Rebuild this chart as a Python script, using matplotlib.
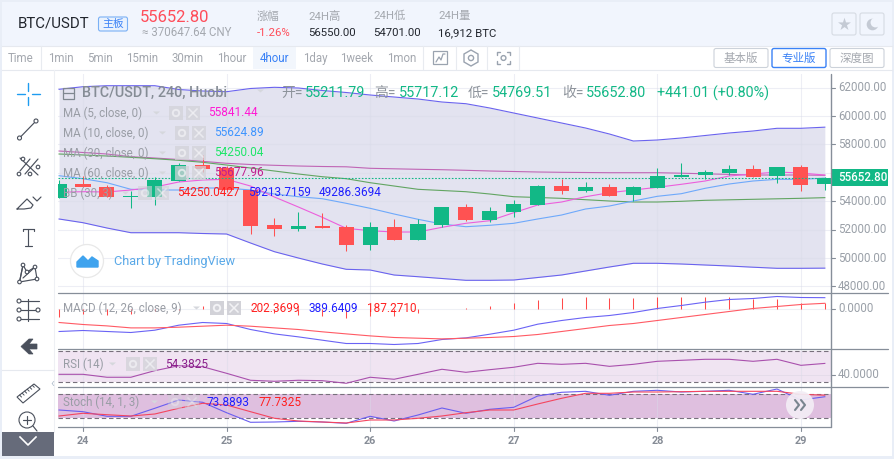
import numpy as np
import matplotlib
matplotlib.use('Agg')
import matplotlib.pyplot as plt
from matplotlib.patches import Rectangle, FancyBboxPatch, Circle, Polygon

plt.rcParams['font.family'] = ['Roboto', 'Noto Sans CJK SC', 'DejaVu Sans']

W, H = 895, 459

# candles, 4 hour bars
idx = list(range(-1, 32))
opens = [54246, 55211, 54979, 54296, 54296, 55444, 56549, 56317, 54789, 52324, 52042, 52254, 52183, 50916, 52183, 51268,
         52324, 53592, 52676, 53240, 53733, 55070, 54718, 55000, 54437, 54930, 55683, 55824, 55986, 56268, 55775, 56408, 55211.79]
closes = [55211, 54979, 54317, 54366, 55493, 56549, 56289, 54789, 52254, 52063, 52254, 52113, 50916, 52183, 51268, 52395,
          53592, 52676, 53310, 53803, 55070, 54718, 55000, 54366, 55000, 55775, 55845, 56057, 56268, 55704, 56408, 55141, 55652.80]
highs = [55493, 55775, 55140, 54740, 55683, 56711, 57254, 56500, 54789, 52817, 53240, 53170, 52324, 52535, 52746, 52746,
         53592, 53803, 53592, 54085, 55141, 55563, 55352, 55211, 55070, 56338, 56690, 56197, 56549, 56549, 56408, 56549, 55717.12]
lows = [54246, 54979, 54317, 53543, 53733, 55444, 56078, 54669, 51690, 51549, 51902, 52113, 50514, 50564, 51268, 51268,
        52183, 52606, 52535, 52887, 53733, 54507, 54648, 54366, 54014, 54930, 55683, 55563, 55845, 55704, 55282, 54718, 54769.51]

# moving averages
ma5 = [54627, 54670, 54650, 54789, 55000, 55352, 55493, 55542, 55070, 54296, 53592, 52866, 52092, 51923, 51831, 51831,
       52162, 52444, 52627, 53190, 53733, 53944, 54317, 54599, 54789, 54979, 55190, 55423, 55775, 55916, 56057, 55986, 55841.44]
ma10 = [55796, 55585, 55303, 54838, 54789, 54789, 54930, 54930, 54789, 54507, 54317, 54176, 53852, 53500, 53099, 52726,
        52394, 52204, 52303, 52444, 52747, 53028, 53451, 53662, 54014, 54345, 54528, 54909, 55211, 55423, 55542, 55542, 55624.89]
ma30 = [57324, 57254, 57183, 57092, 56993, 56880, 56740, 56549, 56338, 56127, 55916, 55725, 55585, 55303, 55070, 54838,
        54754, 54669, 54507, 54317, 54261, 54204, 54106, 54014, 53944, 53944, 53993, 54063, 54099, 54134, 54169, 54204, 54250.04]
ma60 = [57535, 57430, 57324, 57134, 57042, 56937, 56810, 56669, 56585, 56528, 56479, 56444, 56423, 56317, 56282, 56247,
        56218, 56176, 56127, 56092, 56057, 56035, 56021, 56007, 56007, 56007, 55972, 55930, 55888, 55845, 55845, 55845, 55824]

# bollinger
bb_up = [61880, 62063, 62134, 62134, 62134, 61866, 61760, 61711, 61937, 62021, 61972, 61796, 61655, 61479, 61338, 61197,
         60986, 60866, 60563, 60211, 59859, 59507, 59155, 58732, 58239, 58310, 58451, 58627, 58803, 58944, 59134, 59134, 59213.72]
bb_low = [52747, 52486, 52113, 51782, 51782, 51782, 51726, 51690, 51057, 50444, 50000, 49578, 49205, 49155, 48803, 48683,
          48557, 48430, 48430, 48451, 48627, 48803, 49085, 49367, 49627, 49627, 49578, 49507, 49437, 49352, 49275, 49275, 49286.37]

# macd
macd = [-828, -792, -828, -864, -781, -601, -504, -540, -756, -914, -1021, -1141, -1260, -1260, -1296, -1260,
        -1116, -1058, -925, -781, -565, -432, -324, -252, -144, 0, 108, 227, 324, 360, 432, 396, 389.64]
signal = [-504, -576, -626, -698, -698, -673, -637, -601, -637, -698, -756, -839, -914, -986, -1044, -1069,
          -1094, -1069, -1044, -1008, -936, -828, -720, -612, -540, -432, -324, -216, -108, 0, 72, 144, 187.27]
hist = [-288, -180, -216, -180, -83, -47, 97, 97, -60, -144, -238, -263, -335, -263, -263, -144,
        -18, 30, 97, 205, 300, 372, 408, 372, 372, 408, 408, 408, 408, 336, 336, 216, 202.37]

# rsi and stochastic
rsi = [40.3, 40.3, 36.5, 36.5, 45.0, 51.4, 50.1, 41.6, 32.6, 31.3, 32.6, 32.1, 28.7, 36.5, 33.9, 40.3,
       46.8, 42.9, 46.3, 49.4, 54.5, 53.2, 54.5, 50.6, 53.2, 57.1, 58.4, 59.7, 59.7, 57.1, 59.7, 51.9, 54.38]
stoch_k = [40.75, 36.5, 25, 25, 45, 65.75, 60, 34, 10, 10.75, 12.5, 10.75, 7.5, 25, 13.25, 28.25,
           45.75, 32.5, 42.5, 47.5, 75.75, 85, 87.5, 77.5, 87.5, 90, 85.75, 87.5, 90, 80, 93.25, 65.75, 73.89]
stoch_d = [25.75, 32.5, 29, 25.75, 30.75, 45, 57.5, 53.25, 36.5, 20, 13.25, 10.75, 8.25, 15.75, 15.75, 20,
           25.75, 34, 40.75, 40.75, 55.75, 70, 82.5, 82.5, 85.75, 85.75, 86.5, 87.5, 87.5, 87.5, 87.5, 80, 77.73]

price_ticks = [62000, 60000, 58000, 54000, 52000, 50000, 48000]
grid_prices = [62000, 60000, 58000, 56000, 54000, 52000, 50000, 48000]
day_pos = [0, 6, 12, 18, 24, 30]
day_labels = ['24', '25', '26', '27', '28', '29']
last_price = 55652.80

GREEN = '#12b886'
RED = '#ff5252'
GRAY = '#999da5'
AXIS = '#868e99'
LW = 0.8

fig = plt.figure(figsize=(W / 100, H / 100), dpi=100, facecolor='#e9eef7')


def px_axes(l, t, r, b, z):
    a = fig.add_axes([l / W, 1 - b / H, (r - l) / W, (b - t) / H], zorder=z)
    a.patch.set_alpha(0)
    return a


# background chrome, pixel coordinates
bg = px_axes(0, 0, W, H, 0)
bg.set_xlim(0, W)
bg.set_ylim(H, 0)
bg.axis('off')
bg.add_patch(Rectangle((2, 2), 890, 454, fc='white', ec='none'))
bg.add_patch(Rectangle((2, 2), 890, 43.5, fc='#f1f5fd', ec='none'))
bg.add_patch(Rectangle((253, 46), 43, 23, fc='#f2f6fc', ec='none'))
bg.plot([2, 892], [45.7, 45.7], color='#e6e9ef', lw=0.8)
bg.plot([2, 892], [69.5, 69.5], color='#e6e9ef', lw=0.8)
for sx in [41, 423, 456, 487, 519]:
    bg.plot([sx, sx], [46, 69], color='#e8ebf0', lw=0.8)
bg.plot([54.5, 54.5], [70, 432], color='#eef0f4', lw=0.8)
bg.plot([2, 54], [370, 370], color='#e6e9ef', lw=0.8)

# panes
x0 = (58 - 83) / 23.93
x1 = (831 - 83) / 23.93
ax = px_axes(58, 74, 831, 293, 1)
ax_m = px_axes(58, 293, 831, 349, 1)
ax_r = px_axes(58, 349, 831, 386.7, 1)
ax_s = px_axes(58, 386.7, 831, 427.3, 1)
for a in [ax, ax_m, ax_r, ax_s]:
    a.set_xlim(x0, x1)
    a.set_xticks([])
    a.set_yticks([])
    for s in a.spines.values():
        s.set_visible(False)
ax.set_ylim(47536, 62958)
ax_m.set_ylim(-1458, 558)
ax_r.set_ylim(24.3, 73)
ax_s.set_ylim(-2.5, 99)

# price pane
ax.fill_between(idx, bb_low, bb_up, color='#e3e3f0', lw=0, zorder=1)
for p in grid_prices:
    ax.axhline(p, color='#d9dbe9', alpha=0.45, lw=0.8, zorder=1.2)
for a in [ax, ax_m, ax_r, ax_s]:
    for d in day_pos:
        a.axvline(d, color='#d9dbe9', alpha=0.45, lw=0.8, zorder=1.2)
ax.plot(idx, bb_up, color='#6a63ee', lw=LW, zorder=2)
ax.plot(idx, bb_low, color='#6a63ee', lw=LW, zorder=2)
ax.plot(idx, ma60, color='#c065b5', lw=LW, zorder=2.1)
ax.plot(idx, ma30, color='#62a562', lw=LW, zorder=2.1)
ax.plot(idx, ma10, color='#6ea9fb', lw=LW, zorder=2.2)
ax.plot(idx, ma5, color='#ec5fdc', lw=LW, zorder=2.2)
for i, o, c, h, l in zip(idx, opens, closes, highs, lows):
    col = GREEN if c >= o else RED
    ax.plot([i, i], [l, h], color=col, lw=0.75, zorder=3, solid_capstyle='butt')
    ax.bar(i, abs(c - o), bottom=min(o, c), width=0.63, color=col, lw=0, zorder=3)
ax.axhline(last_price, color=GREEN, lw=0.8, dashes=(1.5, 1.5), zorder=3.5)

# macd pane
ax_m.axhline(0, color='#eef0f5', lw=0.8, zorder=1)
ax_m.vlines(idx, 0, hist, color='#ff4a4a', lw=0.75, zorder=2)
ax_m.plot(idx, macd, color='#6a63f5', lw=LW, zorder=3)
ax_m.plot(idx, signal, color='#ff5a64', lw=LW, zorder=3)

# rsi pane
ax_r.axhspan(30, 70, color='#f0e4f2', lw=0, zorder=0.5)
ax_r.axhline(40, color='#e3dbe9', lw=0.6, zorder=1)
for lv in [30, 70]:
    ax_r.axhline(lv, color='#77707c', lw=0.8, dashes=(4, 2.5), zorder=2)
ax_r.plot(idx, rsi, color='#a950ad', lw=LW, zorder=3)

# stochastic pane
ax_s.axhspan(20, 80, color='#dfbfdf', lw=0, zorder=0.5)
for lv in [20, 80]:
    ax_s.axhline(lv, color='#77707c', lw=0.8, dashes=(4, 2.5), zorder=2)
ax_s.plot(idx, stoch_k, color='#6a5ef0', lw=LW, zorder=3)
ax_s.plot(idx, stoch_d, color='#f4455f', lw=LW, zorder=3)

# foreground chrome, labels and icons
fg = px_axes(0, 0, W, H, 5)
fg.set_xlim(0, W)
fg.set_ylim(H, 0)
fg.axis('off')


def txt(x, y, s, size=8.3, color='#333333', ha='left', **kw):
    return fg.text(x, y, s, fontsize=size, color=color, ha=ha, va='center', **kw)


def seg(xs, ys, color='#4a505c', lw=0.85):
    fg.plot(xs, ys, color=color, lw=lw, solid_capstyle='round')


def ring(x, y, r, ec='#4a505c', fc='white', lw=0.8):
    fg.add_patch(Circle((x, y), r, fc=fc, ec=ec, lw=lw, zorder=3))


def rbox(l, t, r, b, ec, fc='white', lw=0.8):
    fg.add_patch(FancyBboxPatch((l, t), r - l, b - t, boxstyle='round,pad=0,rounding_size=2', fc=fc, ec=ec, lw=lw))


def icon_pair(xa, xb, y, alpha=1.0):
    # gear and close boxes in the legend rows
    fg.add_patch(Rectangle((xa, y - 7), 14, 14, fc='#d2d2d8', ec='none', alpha=alpha))
    fg.add_patch(Circle((xa + 7, y), 3.2, fc='none', ec='#f2f2f5', lw=1.4, alpha=alpha))
    fg.add_patch(Rectangle((xb, y - 7), 14, 14, fc='#d2d2d8', ec='none', alpha=alpha))
    fg.plot([xb + 3, xb + 11], [y - 4, y + 4], color='#f2f2f5', lw=1.1, alpha=alpha)
    fg.plot([xb + 3, xb + 11], [y + 4, y - 4], color='#f2f2f5', lw=1.1, alpha=alpha)


def caret(x, y):
    fg.add_patch(Polygon([(x, y - 1.5), (x + 7, y - 1.5), (x + 3.5, y + 1.5)], fc='#d5d7dc', ec='none'))


# header
txt(18, 24, 'BTC/USDT', 10.8, '#22262e')
rbox(98.5, 17, 127.5, 31, '#7ab0f5', '#eaf2fd')
txt(113, 24, '主板', 7.8, '#3b82f6', ha='center')
txt(140, 17, '55652.80', 12, '#ff4d5a')
txt(142, 33, '≈ 370647.64 CNY', 8.3, '#a4a8af')
txt(257, 16, '涨幅', 8.2, '#a4a8af')
txt(257, 33, '-1.26%', 8.2, '#ff4d5a')
txt(308, 16, '24H高', 8.2, '#a4a8af')
txt(308, 33, '56550.00', 8.2, '#22262e')
txt(373, 16, '24H低', 8.2, '#a4a8af')
txt(373, 33, '54701.00', 8.2, '#22262e')
txt(438, 16, '24H量', 8.2, '#a4a8af')
txt(438, 33, '16,912 BTC', 8.2, '#22262e')
rbox(832, 13, 856, 35, '#d6dbe3', '#f1f5fd')
rbox(860, 13, 884, 35, '#d6dbe3', '#f1f5fd')
fg.scatter([844], [24], marker='*', s=95, color='#c4cad4', lw=0)
fg.scatter([872], [24], marker='o', s=70, color='#c4cad4', lw=0)
fg.scatter([875], [22], marker='o', s=50, color='#f1f5fd', lw=0)

# time frames
tabs = ['1min', '5min', '15min', '30min', '1hour', '4hour', '1day', '1week', '1mon']
tab_x = [61, 100, 142, 188, 232, 275, 315, 357, 402]
txt(21, 58.5, 'Time', 8.3, '#a4a8af', ha='center')
for tx, t in zip(tab_x, tabs):
    txt(tx, 58.5, t, 8.3, '#3b82f6' if t == '4hour' else '#a4a8af', ha='center')
fg.add_patch(Rectangle((433, 51), 14, 13, fc='none', ec='#9aa3af', lw=0.9))
seg([436, 439, 441, 443, 445], [62, 57, 60, 54, 54], '#9aa3af', 0.9)
fg.add_patch(Polygon([(471, 50), (478, 54), (478, 62), (471, 66), (464, 62), (464, 54)], fc='none', ec='#9aa3af', lw=1))
fg.add_patch(Circle((471, 58), 2.6, fc='none', ec='#9aa3af', lw=1))
for bx, by, dx, dy in [(497, 52, 1, 1), (510, 52, -1, 1), (497, 64, 1, -1), (510, 64, -1, -1)]:
    seg([bx + 3 * dx, bx, bx], [by, by, by + 3 * dy], '#9aa3af', 1)
fg.add_patch(Circle((503.5, 58), 2.4, fc='none', ec='#9aa3af', lw=1))
rbox(714, 48.5, 768, 67.5, '#ccd2da')
txt(741, 58, '基本版', 8.3, '#a4a8af', ha='center')
rbox(772, 48.5, 826, 67.5, '#3b82f6', lw=1)
txt(799, 58, '专业版', 8.3, '#3b82f6', ha='center')
rbox(830, 48.5, 884, 67.5, '#ccd2da')
txt(857, 58, '深度图', 8.3, '#a4a8af', ha='center')

# title row
fg.add_patch(Rectangle((63, 87.5), 11, 11, fc='none', ec='#7f8790', lw=0.9))
seg([63, 74], [93, 93], '#7f8790', 0.9)
txt(82, 93, 'BTC/USDT, 240, Huobi', 10.4, '#858c95', fontweight='medium')
caret(257, 91)
for lx, ll, vx, vv in [(281, '开=', 305, '55211.79'), (374, '高=', 399, '55717.12'),
                       (468, '低=', 492, '54769.51'), (562, '收=', 586, '55652.80')]:
    txt(lx, 93, ll, 10, '#8d939b')
    txt(vx, 93, vv, 10.4, GREEN)
txt(657, 93, '+441.01 (+0.80%)', 10.4, GREEN)

# legend rows
rows = [(113, 'MA (5, close, 0)', 169, 186, '55841.44', 208, '#ff19d4'),
        (133, 'MA (10, close, 0)', 175, 192, '55624.89', 214, '#3d94ff'),
        (153, 'MA (30, close, 0)', 175, 192, '54250.04', 214, '#1fe66a'),
        (173, 'MA (60, close, 0)', 175, 192, '55677.96', 214, '#c01f8e')]
for ry, name, ia, ib, val, vx, col in rows:
    txt(63, ry, name, 8.3, GRAY)
    caret(ia - 16, ry)
    icon_pair(ia, ib, ry, 0.75)
    txt(vx, ry, val, 8.5, col)
txt(63, 193, 'BB (30, 3)', 8.3, GRAY)
caret(122, 193)
icon_pair(138, 155, 193, 0.6)
txt(177, 193, '54250.0427', 8.5, '#ff1f1f')
txt(248, 193, '59213.7159', 8.5, '#1f1fff')
txt(319, 193, '49286.3694', 8.5, '#1f1fff')

txt(63, 308, 'MACD (12, 26, close, 9)', 8.3, GRAY)
caret(193, 308)
icon_pair(210, 227, 308)
txt(250, 308, '202.3699', 8.5, '#ff1f1f')
txt(309, 308, '389.6409', 8.5, '#1f1fff')
txt(367, 308, '187.2710', 8.5, '#ff1f1f')
txt(63, 364, 'RSI (14)', 8.3, GRAY)
caret(109, 364)
icon_pair(126, 143, 364, 0.75)
txt(165, 364, '54.3825', 8.5, '#8a1f8a')
txt(63, 402, 'Stoch (14, 1, 3)', 8.3, GRAY)
caret(151, 402)
icon_pair(168, 185, 402, 0.4)
txt(207, 402, '73.8893', 8.5, '#1f1fff')
txt(259, 402, '77.7325', 8.5, '#ff1f1f')

# watermark logo
fg.add_patch(Circle((87, 261), 16.5, fc='white', ec='#e8e8e8', lw=0.9))
fg.add_patch(Polygon([(77, 267), (77, 262), (83, 256), (88, 261), (92, 257), (98, 261), (98, 267)], fc='#3fa3ee', ec='#3fa3ee', lw=1))
txt(114, 261, 'Chart by TradingView', 9.2, '#5aa9e8')

# axes lines
seg([831, 831], [74, 427.3], AXIS, 1.0)
for sy, sr in [(293, 888), (349, 888), (386.7, 888), (427.3, 831)]:
    seg([58, sr], [sy, sy], AXIS, 0.9)

# right axis labels, from the same scale as the pane
for p in price_ticks:
    py = 116 + (60000 - p) / 70.42
    seg([831, 835], [py, py], AXIS, 0.8)
    txt(838, py, '%.2f' % p, 8.3, '#9aa0a8')
seg([831, 835], [308.5, 308.5], AXIS, 0.8)
txt(838, 308.5, '0.0000', 8.3, '#9aa0a8')
seg([831, 835], [375, 375], AXIS, 0.8)
txt(838, 375, '40.0000', 8.3, '#9aa0a8')
tag_y = 116 + (60000 - last_price) / 70.42
fg.add_patch(Rectangle((831, tag_y - 8.5), 57, 17, fc=GREEN, ec='none'))
txt(838, tag_y, '55652.80', 8.3, 'white', fontweight='medium')

# day labels
for d, lab in zip(day_pos, day_labels):
    dx = 83 + d * 23.93
    seg([dx, dx], [427.3, 431], AXIS, 0.8)
    txt(dx, 441, lab, 7.8, '#868c96', ha='center', fontweight='bold')

# scroll button
fg.add_patch(Circle((800, 405), 14, fc='#f3edf5', ec='none', alpha=0.93))
seg([795, 799, 795], [400, 405, 410], '#79858f', 1.5)
seg([801, 805, 801], [400, 405, 410], '#79858f', 1.5)

# left toolbar
BLUE_ICON = '#1e9cf0'
seg([17, 25], [94, 94], BLUE_ICON, 1.0)
seg([32, 40], [94, 94], BLUE_ICON, 1.0)
seg([28.5, 28.5], [83, 91], BLUE_ICON, 1.0)
seg([28.5, 28.5], [97, 105], BLUE_ICON, 1.0)
seg([19.5, 36], [138, 121])
ring(19.5, 138, 2)
ring(36, 121, 2)
# fork
seg([20, 30], [171, 159])
seg([25, 38], [174, 159])
seg([20, 38], [158, 175])
for fx, fy in [(19, 174), (30, 174), (23, 159), (38, 167)]:
    ring(fx, fy, 1.8)
# brush
seg([17, 27, 33, 31, 24, 17], [209, 199, 205, 208, 209, 209])
seg([33, 37, 41], [197, 201, 197])
# text tool
seg([23, 34], [229, 229])
seg([28.5, 28.5], [229, 246])
seg([25, 32], [246, 246])
seg([23, 23], [229, 231])
seg([34, 34], [229, 231])
# pattern
pts = [(19.5, 282), (23, 265), (27, 272), (35, 267), (37, 279)]
seg([p[0] for p in pts] + [19.5], [p[1] for p in pts] + [282])
seg([23, 19.5], [265, 282])
seg([23, 35], [278, 267])
for p in pts:
    ring(p[0], p[1], 1.8)
# fib
for fy in [301, 310, 319]:
    seg([19, 39], [fy, fy])
    ring(19, fy, 2)
ring(38, 310, 2)
seg([28.5, 28.5], [299, 321])
# back arrow
fg.add_patch(Polygon([(21, 346.5), (29, 339), (33, 339), (29, 344), (37, 344), (37, 349), (29, 349), (33, 354), (29, 354)], fc='#4a505c', ec='#4a505c', lw=0.5))
# ruler
fg.add_patch(Polygon([(17, 397), (34, 384), (40, 389), (23, 403)], fc='none', ec='#4a505c', lw=0.8))
for t in [0.15, 0.3, 0.45, 0.6, 0.75, 0.9]:
    rx = 17 + 17 * t
    ry = 397 - 13 * t
    seg([rx, rx + 2], [ry, ry + 2], '#4a505c', 0.7)
# zoom, partly under the tab
ring(27, 420, 8, fc='none')
seg([23, 31], [420, 420])
seg([27, 27], [416, 424])
seg([33, 37], [426, 431])
fg.add_patch(Rectangle((2, 432), 52, 23.5, fc='#666b7a', ec='none', zorder=4))
fg.plot([20, 28, 36], [437, 445, 437], color='white', lw=1.2, zorder=5)
txt(52, 384, '‹', 9, '#b5c2d0', ha='center')

fig.savefig('out.png', dpi=100, facecolor=fig.get_facecolor())
